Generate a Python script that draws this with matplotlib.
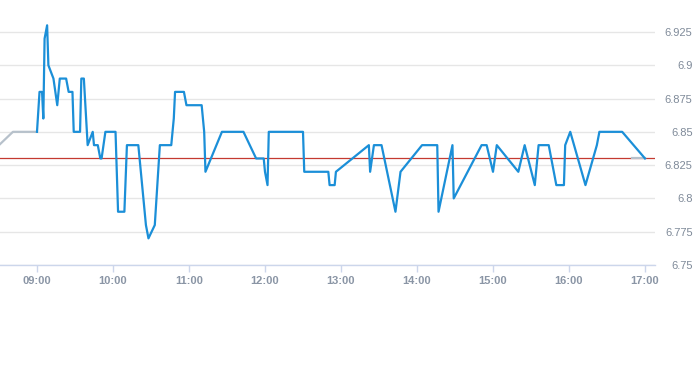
import matplotlib
matplotlib.use("Agg")
import matplotlib.pyplot as plt
import matplotlib.dates as mdates
import pandas as pd

day = "2020-01-02 "

# intraday price (blue)
times = ["09:00", "09:02", "09:04", "09:05", "09:06", "09:08", "09:09", "09:13", "09:16", "09:18",
         "09:23", "09:25", "09:28", "09:29", "09:34", "09:35", "09:37", "09:40", "09:44", "09:45",
         "09:48", "09:50", "09:51", "09:54", "10:02", "10:04", "10:09", "10:11", "10:20", "10:24",
         "10:26", "10:28", "10:33", "10:37", "10:46", "10:48", "10:49", "10:56", "10:58", "11:10",
         "11:12", "11:13", "11:26", "11:43", "11:53", "11:59", "12:00", "12:02", "12:03", "12:30",
         "12:31", "12:50", "12:51", "12:55", "12:56", "13:22", "13:23", "13:26", "13:32", "13:43",
         "13:47", "14:04", "14:16", "14:17", "14:28", "14:29", "14:51", "14:55", "15:00", "15:03",
         "15:20", "15:25", "15:33", "15:36", "15:44", "15:48", "15:50", "15:56", "15:57", "16:01",
         "16:13", "16:22", "16:24", "16:42", "17:00"]
prices = [6.85, 6.88, 6.88, 6.86, 6.92, 6.93, 6.90, 6.89, 6.87, 6.89,
          6.89, 6.88, 6.88, 6.85, 6.85, 6.89, 6.89, 6.84, 6.85, 6.84,
          6.84, 6.83, 6.83, 6.85, 6.85, 6.79, 6.79, 6.84, 6.84, 6.80,
          6.78, 6.77, 6.78, 6.84, 6.84, 6.86, 6.88, 6.88, 6.87, 6.87,
          6.85, 6.82, 6.85, 6.85, 6.83, 6.83, 6.82, 6.81, 6.85, 6.85,
          6.82, 6.82, 6.81, 6.81, 6.82, 6.84, 6.82, 6.84, 6.84, 6.79,
          6.82, 6.84, 6.84, 6.79, 6.84, 6.80, 6.84, 6.84, 6.82, 6.84,
          6.82, 6.84, 6.81, 6.84, 6.84, 6.82, 6.81, 6.81, 6.84, 6.85,
          6.81, 6.84, 6.85, 6.85, 6.83]

# grey bits outside the session
pre_times = ["08:30", "08:41", "09:00"]
pre_prices = [6.84, 6.85, 6.85]
post_times = ["16:50", "17:00"]
post_prices = [6.83, 6.83]

ref_price = 6.83

yticks = [6.75, 6.775, 6.8, 6.825, 6.85, 6.875, 6.9, 6.925]
ytick_labels = ["6.75", "6.775", "6.8", "6.825", "6.85", "6.875", "6.9", "6.925"]
xticks = ["09:00", "10:00", "11:00", "12:00", "13:00", "14:00", "15:00", "16:00", "17:00"]


def to_dt(lst):
    return pd.to_datetime([day + t for t in lst])


plt.rcParams['font.family'] = ['Liberation Sans', 'DejaVu Sans']

fig = plt.figure(figsize=(6.93, 3.65), dpi=100)
ax = fig.add_axes([0, 100 / 365, 655 / 693, 265 / 365])

ax.axhline(ref_price, color='#c43a31', linewidth=0.9, zorder=2)
ax.plot(to_dt(pre_times), pre_prices, color='#b7c1cb', linewidth=1.6, zorder=3)
ax.plot(to_dt(post_times), post_prices, color='#b7c1cb', linewidth=1.6, zorder=3)
ax.plot(to_dt(times), prices, color='#1b8fd8', linewidth=1.6, zorder=4)

ax.set_xlim(pd.Timestamp(day + "08:30:48"), pd.Timestamp(day + "17:07:54"))
ax.set_ylim(6.75, 6.949)

ax.set_xticks(to_dt(xticks))
ax.xaxis.set_major_formatter(mdates.DateFormatter('%H:%M'))
ax.tick_params(axis='x', length=5, width=1, color='#ccd6eb', pad=3,
               labelsize=8, labelcolor='#8a95a5')
for lab in ax.get_xticklabels():
    lab.set_fontweight('bold')

ax.yaxis.tick_right()
ax.set_yticks(yticks)
ax.set_yticklabels(ytick_labels)
ax.tick_params(axis='y', length=0, pad=27, labelsize=8, labelcolor='#7f8a99')
for lab in ax.get_yticklabels():
    lab.set_horizontalalignment('right')

ax.yaxis.grid(True, color='#e6e6e6', linewidth=1)
ax.set_axisbelow(True)
for s in ['top', 'left', 'right']:
    ax.spines[s].set_visible(False)
ax.spines['bottom'].set_color('#ccd6eb')
ax.spines['bottom'].set_linewidth(1)

fig.savefig('out.png', dpi=100)
plt.close()
